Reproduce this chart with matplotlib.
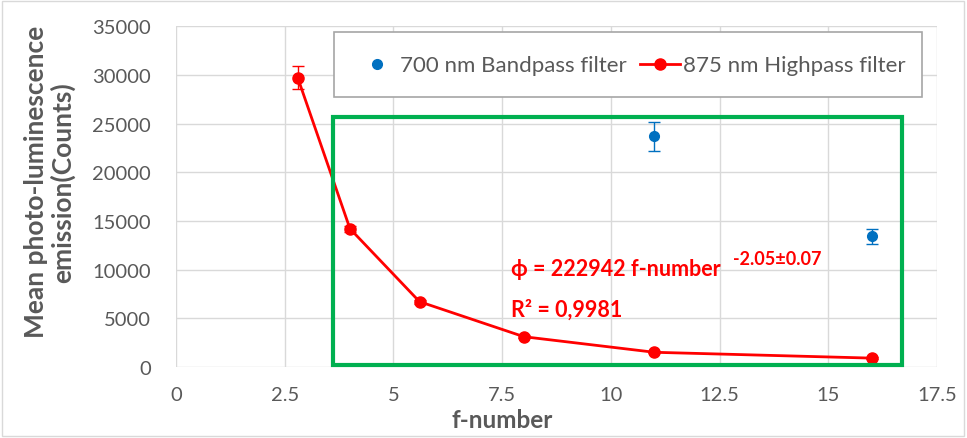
import matplotlib
matplotlib.use("Agg")
import matplotlib.pyplot as plt
from matplotlib.patches import Rectangle
from matplotlib.lines import Line2D

# Data
f_red = [2.8, 4.0, 5.6, 8.0, 11.0, 16.0]
y_red = [29700, 14200, 6700, 3100, 1500, 900]
err_red = [1200, 300, 200, 150, 100, 80]
f_blue = [11.0, 16.0]
y_blue = [23700, 13400]
err_blue = [1500, 800]
xticks = [0, 2.5, 5, 7.5, 10, 12.5, 15, 17.5]
yticks = [0, 5000, 10000, 15000, 20000, 25000, 30000, 35000]
box_x = [3.6, 16.7]
box_y = [150, 25700]

plt.rcParams['font.family'] = ['Lato', 'DejaVu Sans']

fig = plt.figure(figsize=(9.67, 4.39), dpi=100)
fig.patch.set_facecolor('white')
fig.add_artist(Rectangle((0.002, 0.005), 0.995, 0.99, transform=fig.transFigure,
                         fill=False, edgecolor='#d9d9d9', lw=1))
ax = fig.add_axes([0.182, 0.162, 0.787, 0.776])

gray = '#595959'
ax.errorbar(f_blue, y_blue, yerr=err_blue, fmt='o', color='#0070c0', ms=7,
            capsize=4, elinewidth=1, zorder=4)
ax.errorbar(f_red, y_red, yerr=err_red, fmt='-o', color='#ff0000', ms=8, lw=2,
            capsize=4, elinewidth=1, zorder=5)

ax.set_xlim(0, 17.5)
ax.set_ylim(0, 35000)
ax.set_xticks(xticks)
ax.set_xticklabels([f"{t:g}" for t in xticks])
ax.set_yticks(yticks)
ax.grid(True, color='#d9d9d9', lw=1)
ax.set_axisbelow(True)
for s in ax.spines.values():
    s.set_visible(False)
ax.tick_params(length=0, colors=gray, labelsize=14.5)
ax.tick_params(axis='y', pad=18)
ax.tick_params(axis='x', pad=14)

ax.set_xlabel('f-number', fontsize=17.5, fontweight='bold', color=gray)
ax.xaxis.set_label_coords(0.428, -0.12)
ax.set_ylabel('Mean photo-luminescence\nemission(Counts)', fontsize=19,
              fontweight='bold', color=gray, linespacing=1.05)
ax.yaxis.set_label_coords(-0.133, 0.545)

ax.add_patch(Rectangle((box_x[0], box_y[0]), box_x[1] - box_x[0], box_y[1] - box_y[0],
                       fill=False, edgecolor='#00b050', lw=3, zorder=6, clip_on=False))

t1 = ax.text(7.7, 9400, 'ϕ = 222942 f-number', color='#ff0000', fontsize=15.5,
             fontweight='bold', zorder=7)
ax.annotate('-2.05±0.07', xy=(1, 0.75), xycoords=t1, xytext=(9, 0),
            textcoords='offset points', color='#ff0000', fontsize=13,
            fontweight='bold', zorder=7)
ax.text(7.7, 5300, 'R² = 0,9981', color='#ff0000', fontsize=15.5, fontweight='bold', zorder=7)

# legend frame
ax.add_patch(Rectangle((0.2076, 0.7915), 0.7724, 0.1905, transform=ax.transAxes,
                       facecolor='white', edgecolor='#a6a6a6', lw=1.2, zorder=8))
handles = [Line2D([], [], ls='none', marker='o', color='#0070c0', ms=7),
           Line2D([], [], ls='-', marker='o', color='#ff0000', ms=8, lw=2)]
labels = ['700 nm Bandpass filter', '875 nm Highpass filter']
leg = ax.legend(handles, labels, loc='center left', bbox_to_anchor=(0.238, 0.885),
                ncol=2, frameon=False, fontsize=16, borderpad=0, borderaxespad=0,
                handlelength=1.8, handletextpad=0.14, labelcolor=gray,
                columnspacing=0.6)
leg.set_zorder(9)

fig.savefig('out.png', dpi=100)
